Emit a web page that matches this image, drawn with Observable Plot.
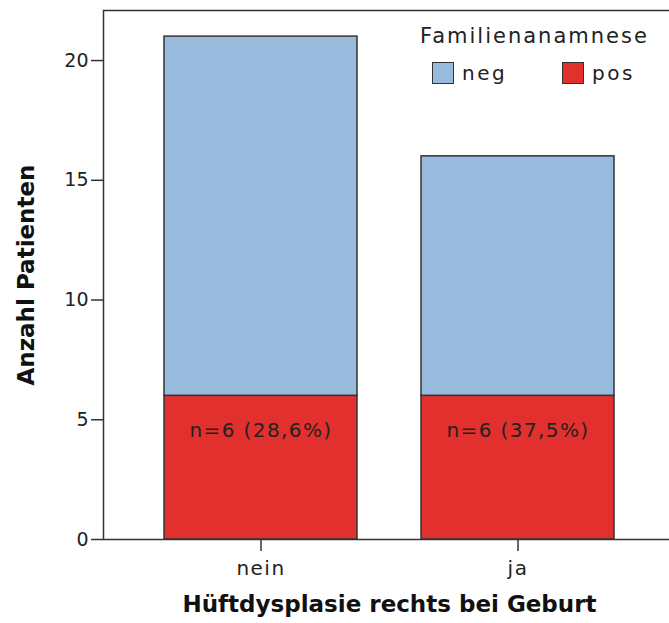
<!DOCTYPE html>
<html>
<head>
<meta charset="utf-8">
<script src="https://cdn.jsdelivr.net/npm/d3@7"></script>
<script src="https://cdn.jsdelivr.net/npm/@observablehq/plot@0.6"></script>
<style>
  html, body { margin: 0; padding: 0; background: #fff; overflow: hidden; }
  #wrap { position: relative; width: 669px; height: 623px; }
  #legend { position: absolute; left: 0; top: 0; width: 669px; height: 100px; pointer-events: none;
            font-family: "DejaVu Sans", sans-serif; color: #222; }
  #legend .title { position: absolute; left: 420px; top: 24px; font-size: 21px; letter-spacing: 2px; white-space: nowrap; }
  #legend .item { position: absolute; top: 61px; display: flex; align-items: center; font-size: 20px; letter-spacing: 2.5px; white-space: nowrap; }
  #legend .sw { width: 20px; height: 20px; border: 1.5px solid #333; margin-right: 8px; }
</style>
</head>
<body>
<div id="wrap"></div>
<script>
const categories = ["nein", "ja"];
const negValues = [15, 10];
const posValues = [6, 6];
const groups = ["neg", "pos"];
const groupColors = ["#98BADC", "#E1302D"];
const annotations = ["n=6 (28,6%)", "n=6 (37,5%)"];
const yTicks = [0, 5, 10, 15, 20];
const yMax = 22.09;
const yTitle = "Anzahl Patienten";
const xTitle = "Hüftdysplasie rechts bei Geburt";
const legendTitle = "Familienanamnese";

const data = categories.flatMap((c, i) => [
  {cat: c, group: "pos", value: posValues[i]},
  {cat: c, group: "neg", value: negValues[i]}
]);
const annData = categories.map((c, i) => ({cat: c, y: posValues[i], label: annotations[i]}));

const chart = Plot.plot({
  width: 669,
  height: 623,
  marginLeft: 103,
  marginRight: -6,
  marginTop: 10,
  marginBottom: 84,
  style: {fontFamily: "DejaVu Sans", fontSize: "19px", color: "#222", background: "#fff"},
  x: {domain: categories, paddingInner: 0.249, paddingOuter: 0.237},
  y: {domain: [0, yMax]},
  color: {domain: groups, range: groupColors},
  marks: [
    Plot.barY(data, {x: "cat", y: "value", fill: "group", order: ["pos", "neg"], stroke: "#333", strokeWidth: 1.5}),
    Plot.frame({stroke: "#333", strokeWidth: 1.5}),
    Plot.axisY({ticks: yTicks, tickSize: 12, tickPadding: 3, tickFormat: d => String(d), label: null, stroke: "#333", strokeWidth: 1.5}),
    Plot.axisX({tickSize: 12, tickPadding: 9, fontSize: 20, label: null, stroke: "#333", strokeWidth: 1.5}),
    Plot.text(annData, {x: "cat", y: "y", text: "label", lineAnchor: "top", dy: 27, fontSize: 20, fill: "#222"}),
    Plot.text([yTitle], {frameAnchor: "left", textAnchor: "middle", text: d => d, rotate: -90, dx: -77, fontSize: 23, fontWeight: "bold", fill: "#111"}),
    Plot.text([xTitle], {frameAnchor: "bottom", text: d => d, dy: 72, fontSize: 23, fontWeight: "bold", fill: "#111"})
  ]
});

d3.select(chart).selectAll('g[aria-label="x-axis tick label"] text').attr("letter-spacing", "1.5px");
d3.select(chart).selectAll('g[aria-label="text"] text').filter(function() { return /n=/.test(this.textContent); }).attr("letter-spacing", "1.4px");

const wrap = document.getElementById("wrap");
wrap.appendChild(chart);

const legend = document.createElement("div");
legend.id = "legend";
const t = document.createElement("div");
t.className = "title";
t.textContent = legendTitle;
legend.appendChild(t);
const lefts = [432, 562];
groups.forEach((g, i) => {
  const item = document.createElement("div");
  item.className = "item";
  item.style.left = lefts[i] + "px";
  const sw = document.createElement("div");
  sw.className = "sw";
  sw.style.background = groupColors[i];
  const lab = document.createElement("span");
  lab.textContent = g;
  item.appendChild(sw);
  item.appendChild(lab);
  legend.appendChild(item);
});
wrap.appendChild(legend);
</script>
</body>
</html>
